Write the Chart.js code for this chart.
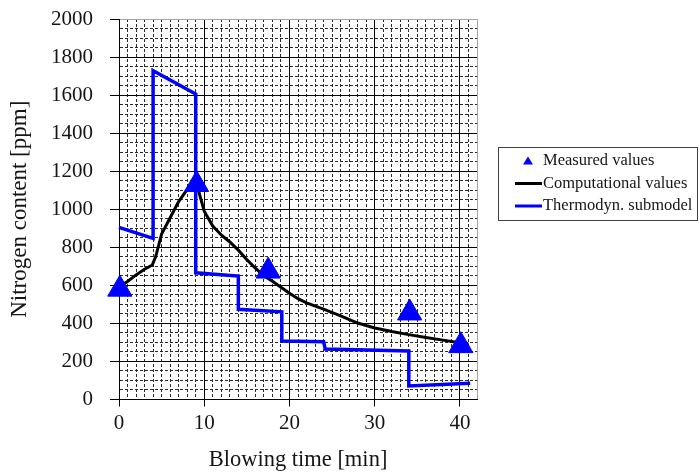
<!DOCTYPE html>
<html><head><meta charset="utf-8">
<script src="https://cdn.jsdelivr.net/npm/chart.js@4"></script>
<style>html,body{margin:0;padding:0;background:#fff}</style>
</head><body>
<canvas id="c" width="700" height="473"></canvas>
<script>
// ---- data ----
const measuredTime = [0.1, 9.1, 17.5, 34.1, 40.1];
const measuredN    = [580, 1130, 675, 455, 283];

const compTime = [0.3, 1, 2, 3, 3.9, 4.3, 5, 6, 7, 8, 8.8, 9.3, 10, 11, 12, 13, 14, 15, 16, 17, 18, 19, 20, 21, 22, 24, 26, 28, 30, 32, 34, 36, 38, 40, 41];
const compN    = [600, 620, 655, 685, 707, 750, 870, 955, 1040, 1105, 1150, 1102, 990, 912, 865, 828, 785, 735, 690, 650, 622, 590, 558, 530, 508, 475, 440, 402, 376, 357, 341, 326, 312, 298, 290];

const thermoTime = [0, 4.0, 4.0, 9.0, 9.0, 14.0, 14.0, 19.1, 19.1, 24.0, 24.2, 34.0, 34.0, 41.2];
const thermoN    = [905, 847, 1728, 1606, 666, 649, 474, 461, 307, 304, 265, 255, 71, 85];

const xTickLabels = [0, 10, 20, 30, 40];
const yTickLabels = [0, 200, 400, 600, 800, 1000, 1200, 1400, 1600, 1800, 2000];

const seriesLabels = ['Measured values', 'Computational values', 'Thermodyn. submodel'];

const toXY = (xs, ys) => xs.map((x, i) => ({x: x, y: ys[i]}));

const SERIF = '"Liberation Serif", "Times New Roman", serif';
const TXT = '#151515';

const isMajorX = v => v % 10 === 0;
const isMajorY = v => v % 200 === 0;

const legendPlugin = {
  id: 'boxLegend',
  afterDraw(chart) {
    const ctx = chart.ctx;
    ctx.save();
    ctx.strokeStyle = '#404040';
    ctx.lineWidth = 1;
    ctx.strokeRect(498.5, 147.5, 199, 73);
    const rows = [161, 183.5, 206];
    ctx.font = '16.5px ' + SERIF;
    ctx.textBaseline = 'middle';
    chart.data.datasets.forEach((d, i) => {
      const y = rows[i];
      if (d.showLine === false) {
        ctx.fillStyle = d.backgroundColor;
        ctx.beginPath();
        ctx.moveTo(528, y - 4.5);
        ctx.lineTo(533, y + 3.5);
        ctx.lineTo(523, y + 3.5);
        ctx.closePath();
        ctx.fill();
      } else {
        ctx.strokeStyle = d.borderColor;
        ctx.lineWidth = 3;
        ctx.beginPath();
        ctx.moveTo(515, y);
        ctx.lineTo(542, y);
        ctx.stroke();
      }
      ctx.fillStyle = TXT;
      ctx.fillText(d.label, 543, y);
    });
    ctx.restore();
  }
};

new Chart(document.getElementById('c'), {
  type: 'scatter',
  data: {
    datasets: [
      {
        label: seriesLabels[0],
        data: toXY(measuredTime, measuredN),
        showLine: false,
        pointStyle: 'triangle',
        pointRadius: 14,
        pointHoverRadius: 14,
        backgroundColor: '#0000ff',
        borderColor: '#0000ff',
        borderWidth: 1,
        clip: false,
        order: 0
      },
      {
        label: seriesLabels[1],
        data: toXY(compTime, compN),
        showLine: true,
        borderColor: '#000000',
        backgroundColor: '#000000',
        borderWidth: 3,
        pointRadius: 0,
        tension: 0,
        clip: false,
        order: 2
      },
      {
        label: seriesLabels[2],
        data: toXY(thermoTime, thermoN),
        showLine: true,
        borderColor: '#0000ff',
        backgroundColor: '#0000ff',
        borderWidth: 3.5,
        borderJoinStyle: 'miter',
        pointRadius: 0,
        tension: 0,
        clip: false,
        order: 1
      }
    ]
  },
  options: {
    responsive: false,
    animation: false,
    events: [],
    layout: { padding: { top: 19, right: 223, bottom: 0, left: 0 } },
    plugins: { legend: { display: false }, tooltip: { enabled: false } },
    scales: {
      x: {
        type: 'linear',
        min: 0, max: 42,
        afterFit: s => { s.height = 73.5; },
        ticks: {
          stepSize: 1, autoSkip: false, maxTicksLimit: 1000, maxRotation: 0,
          padding: 6, color: TXT,
          font: { family: SERIF, size: 21, lineHeight: 1 },
          callback: v => xTickLabels.includes(v) ? String(v) : ''
        },
        grid: {
          lineWidth: 1,
          tickLength: 7,
          color: c => {
            const v = c.tick ? c.tick.value : 0;
            if (v === 42) return '#a6a6a6';
            return isMajorX(v) ? '#000000' : '#2a2a2a';
          },
          tickColor: c => (c.tick && isMajorX(c.tick.value)) ? '#000000' : 'rgba(0,0,0,0)'
        },
        border: {
          color: '#000000', width: 1,
          dash: c => (c.tick && !isMajorX(c.tick.value) && c.tick.value !== 42) ? [3, 2] : []
        },
        title: {
          display: true, text: 'Blowing time [min]', color: TXT,
          font: { family: SERIF, size: 22.5, lineHeight: 1 },
          padding: { top: 0, bottom: 2 }
        }
      },
      y: {
        type: 'linear',
        min: 0, max: 2000,
        afterFit: s => { s.width = 119; s.paddingTop = 10; s.paddingBottom = 10; },
        ticks: {
          stepSize: 50, autoSkip: false, maxTicksLimit: 1000,
          padding: 17, color: TXT,
          font: { family: SERIF, size: 21, lineHeight: 1 },
          callback: v => yTickLabels.includes(v) ? String(v) : ''
        },
        grid: {
          lineWidth: 1,
          tickLength: 9,
          color: c => {
            const v = c.tick ? c.tick.value : 0;
            if (v === 2000) return '#a6a6a6';
            return isMajorY(v) ? '#000000' : '#2a2a2a';
          },
          tickColor: c => (c.tick && isMajorY(c.tick.value)) ? '#000000' : 'rgba(0,0,0,0)'
        },
        border: {
          color: '#000000', width: 1,
          dash: c => (c.tick && !isMajorY(c.tick.value) && c.tick.value !== 2000) ? [3, 2] : []
        },
        title: {
          display: true, text: 'Nitrogen content [ppm]', color: TXT,
          font: { family: SERIF, size: 23, lineHeight: 1 },
          padding: { top: 8, bottom: 0 }
        }
      }
    }
  },
  plugins: [legendPlugin]
});
</script>
</body></html>
